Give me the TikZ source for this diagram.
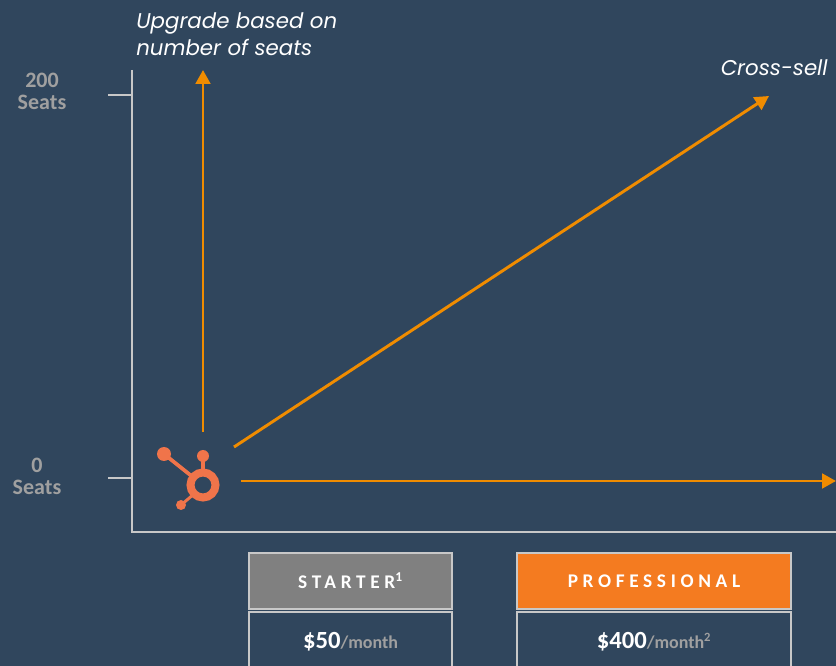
\documentclass[tikz,border=0pt]{standalone}
\usepackage{fontspec}
\setmainfont{Carlito}
\newfontfamily\notefont{Poppins}
\newfontfamily\capsfont[LetterSpace=24]{Carlito}
\usetikzlibrary{arrows.meta,positioning}

\definecolor{slate}{RGB}{48,70,93}
\definecolor{arroworange}{RGB}{240,140,0}
\definecolor{huborange}{RGB}{240,116,74}
\definecolor{proorange}{RGB}{244,123,32}
\definecolor{axisgrey}{RGB}{200,200,200}
\definecolor{labelgrey}{RGB}{160,160,160}
\definecolor{startergrey}{RGB}{128,128,128}

\newcommand{\permonth}[1]{{\color{labelgrey}\fontsize{13.5}{15}\selectfont/month#1}}

\begin{document}
\begin{tikzpicture}[x=0.75pt, y=-0.75pt, every node/.style={font=\small},
    axis/.style={draw=axisgrey, line width=1.5pt},
    growth/.style={draw=arroworange, line width=2.2pt, -{Triangle[length=10.5pt, width=11pt]}},
    ticklabel/.style={align=center, text=labelgrey, font=\bfseries\fontsize{16.5}{16.5}\selectfont},
    note/.style={text=white, align=left, inner sep=0pt, font=\notefont\itshape\fontsize{16}{20}\selectfont},
    header/.style={draw=axisgrey, line width=1.5pt, minimum height=42pt, text=white,
        font=\capsfont\bfseries\fontsize{14.5}{16}\selectfont},
    price/.style={draw=axisgrey, line width=1.5pt, minimum height=45pt, text=white,
        font=\bfseries\fontsize{18.5}{20}\selectfont}]
    % Background
    \fill[slate] (0,0) rectangle (836,666);
    \useasboundingbox (0,0) rectangle (836,666);

    % Axes
    \coordinate (origin) at (132,532);
    \coordinate (ytop) at (132,70);
    \coordinate (xend) at (836,532);
    \draw[axis] (ytop) -- (origin) -- (xend);
    \draw[axis] (108,95) coordinate (t200) -- (132,95);
    \draw[axis] (108,478) coordinate (t0) -- (132,478);
    \node[ticklabel] (seats200) at (42,91) {200\\Seats};
    \node[ticklabel] (seats0) at (37,476) {0\\Seats};

    % Logo
    \coordinate (hub) at (203,485);
    \fill[huborange] (203,456) circle (6) (164,454) circle (7) (181,505) circle (5);
    \draw[huborange, line width=2.4pt] (203,458) -- (203,474);
    \draw[huborange, line width=2.8pt] (164,454) -- (194,478);
    \draw[huborange, line width=2.2pt] (181,505) -- (194,494);
    \draw[huborange, line width=6pt] (hub) circle (12.5);

    % Growth arrows
    \coordinate (up0) at (203,432);
    \coordinate (up1) at (203,70);
    \coordinate (cross0) at (234,447);
    \coordinate (cross1) at (769,96);
    \coordinate (right0) at (241,481);
    \coordinate (right1) at (836,481);
    \draw[growth] (up0) -- (up1);
    \draw[growth] (cross0) -- (cross1);
    \draw[growth] (right0) -- (right1);

    % Notes
    \node[note, anchor=west] (upgrade) at (136,34) {Upgrade based on\\number of seats};
    \node[note, anchor=east] (crosssell) at (828,68) {Cross-sell};

    % Tiers
    \node[header, fill=startergrey, minimum width=152pt] (starter) at (350.5,581) {STARTER\textsuperscript{1}};
    \node[price, minimum width=152pt, below=0.5pt of starter] (starterprice) {\$50\permonth{}};
    \node[header, fill=proorange, minimum width=205.5pt] (pro) at (654,581) {PROFESSIONAL};
    \node[price, minimum width=205.5pt, below=0.5pt of pro] (proprice) {\$400\permonth{\textsuperscript{2}}};
\end{tikzpicture}
\end{document}
